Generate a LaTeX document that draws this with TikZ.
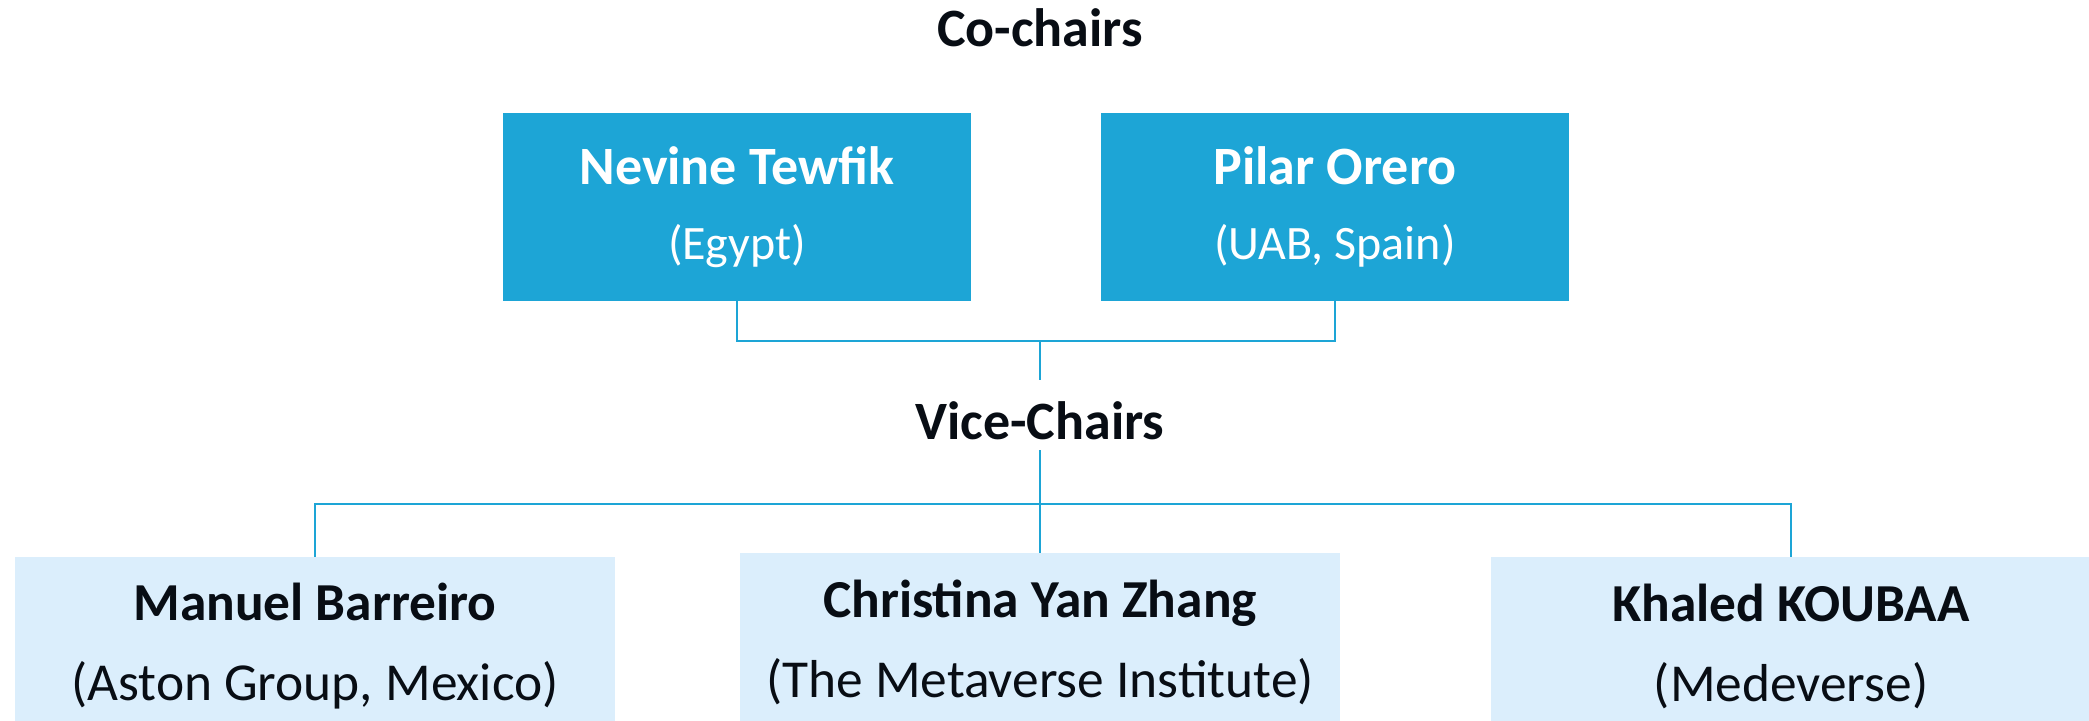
\documentclass[tikz,border=0pt]{standalone}
\usepackage{fontspec}
\setmainfont{Carlito}
\usetikzlibrary{positioning}
\definecolor{chairblue}{RGB}{29,165,214}
\definecolor{vicefill}{RGB}{219,238,252}
\definecolor{inkdark}{RGB}{8,13,20}

\begin{document}
\begin{tikzpicture}[x = 0.5pt, y = 0.5pt,
    heading/.style = {font = \fontsize{27}{32}\selectfont\bfseries, text = inkdark},
    cobox/.style = {fill = chairblue, text = white, minimum width = 234pt, minimum height = 94pt,
        inner sep = 0pt, align = center, font = \fontsize{27}{37.5}\selectfont},
    vicebox/.style = {fill = vicefill, text = inkdark, minimum width = 300pt, minimum height = 89pt,
        inner sep = 0pt, align = center, font = \fontsize{26.7}{40}\selectfont},
    link/.style = {draw = chairblue, line width = 1pt}]
    \useasboundingbox (0,0) rectangle (2089,721);
    \clip (0,0) rectangle (2089,721);

    \node[heading, anchor = base] (co) at (1040,674) {Co-chairs};
    \node[cobox] at (737,514) (tewfik) {\textbf{Nevine Tewfik}\\{\fontsize{24}{37.5}\selectfont (Egypt)}};
    \node[cobox] at (1335,514) (orero) {\textbf{Pilar Orero}\\{\fontsize{24}{37.5}\selectfont (UAB, Spain)}};
    \coordinate (tj) at (1040,380);

    \node[heading, anchor = base, inner sep = 0pt, text height = 30pt, text depth = 5pt] (vice) at (1040,281) {Vice-Chairs};
    \node[vicebox] at (315,75) (barreiro) {\textbf{Manuel Barreiro}\\(Aston Group, Mexico)};
    \node[vicebox] at (1040,79) (zhang) {\textbf{Christina Yan Zhang}\\(The Metaverse Institute)};
    \node[vicebox] at (1791,75) (koubaa) {\textbf{Khaled KOUBAA}\\(Medeverse)};
    \coordinate (bj) at (1040,217);

    \draw[link] (tewfik) |- (tj) -| (orero);
    \draw[link] (tj) -- (vice);
    \draw[link] (vice) -- (zhang);
    \draw[link] (barreiro) |- (bj) -| (koubaa);
\end{tikzpicture}
\end{document}
